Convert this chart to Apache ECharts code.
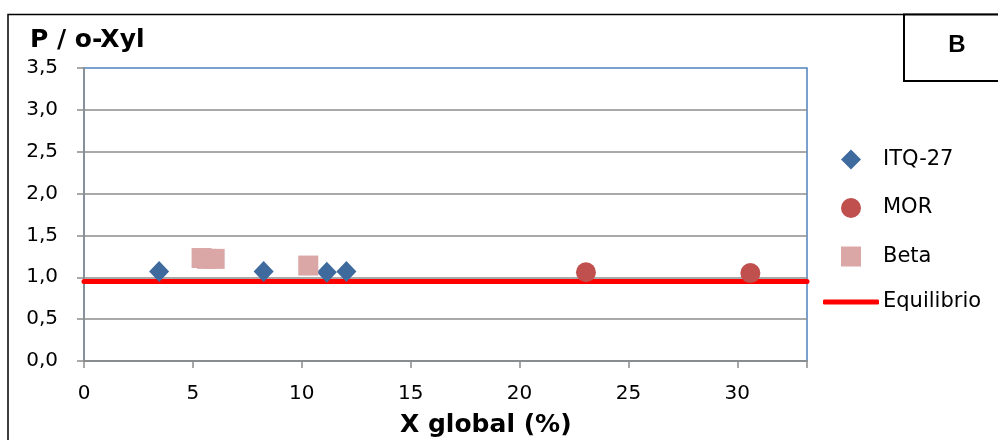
<!DOCTYPE html>
<html>
<head>
<meta charset="utf-8">
<script src="https://cdn.jsdelivr.net/npm/echarts@6/dist/echarts.min.js"></script>
<style>html,body{margin:0;padding:0;background:#fff;}#c{width:998px;height:440px;}</style>
</head>
<body>
<div id="c"></div>
<script>
// Data
const itq27 = [[3.45, 1.07], [8.25, 1.07], [11.15, 1.06], [12.05, 1.07]];
const mor = [[23.05, 1.06], [30.6, 1.05]];
const beta = [[5.4, 1.23], [5.65, 1.22], [6.0, 1.22], [10.3, 1.14]];
const equilibrioValue = 0.95;
const xRange = [0, 33.2];
const yTicks = [0, 0.5, 1.0, 1.5, 2.0, 2.5, 3.0, 3.5];
const xTicks = [0, 5, 10, 15, 20, 25, 30];

const equilibrio = xRange.map(x => [x, equilibrioValue]);

const chart = echarts.init(document.getElementById('c'));
const gray = '#8c8c8c';
const tickFont = { fontFamily: 'DejaVu Sans', fontSize: 20, color: '#000' };

chart.setOption({
  animation: false,
  backgroundColor: '#fff',
  grid: {
    left: 84, top: 68, right: 191, bottom: 79,
    show: true, borderColor: '#4F81BD', borderWidth: 1.5, backgroundColor: 'transparent'
  },
  xAxis: {
    type: 'value', min: xRange[0], max: xRange[1], interval: xTicks[1] - xTicks[0],
    axisLine: { lineStyle: { color: gray, width: 1.5 } },
    axisTick: { show: true, length: 7, lineStyle: { color: gray, width: 1.5 } },
    splitLine: { show: false },
    axisLabel: Object.assign({ margin: 23, formatter: v => xTicks.includes(v) ? String(v) : '' }, tickFont)
  },
  yAxis: {
    type: 'value', min: yTicks[0], max: yTicks[yTicks.length - 1], interval: yTicks[1] - yTicks[0],
    axisLine: { show: true, lineStyle: { color: gray, width: 1.5 } },
    axisTick: { show: true, length: 7, lineStyle: { color: gray, width: 1.5 } },
    splitLine: { show: true, showMaxLine: false, lineStyle: { color: gray, width: 1.5 } },
    axisLabel: Object.assign({ margin: 26, formatter: v => v.toFixed(1).replace('.', ',') }, tickFont)
  },
  legend: [
    {
      data: ['ITQ-27', 'MOR', 'Beta'],
      orient: 'vertical', left: 841, top: 149, padding: 0,
      itemWidth: 20, itemHeight: 20, itemGap: 27.5,
      textStyle: { fontFamily: 'DejaVu Sans', fontSize: 21, color: '#000', lineHeight: 20, padding: [0, 0, 0, 17] }
    },
    {
      data: [{ name: 'Equilibrio', icon: 'roundRect' }],
      orient: 'vertical', left: 823, top: 290, padding: 0,
      itemWidth: 56, itemHeight: 5, itemGap: 0,
      itemStyle: { color: '#FF0000', borderWidth: 0 },
      textStyle: { fontFamily: 'DejaVu Sans', fontSize: 21, color: '#000', lineHeight: 24, padding: [0, 0, 0, -1] }
    }
  ],
  series: [
    {
      name: 'Equilibrio', type: 'line', data: equilibrio, symbol: 'none', z: 1,
      lineStyle: { color: '#FF0000', width: 5, cap: 'round' }, itemStyle: { color: '#FF0000' }
    },
    {
      name: 'ITQ-27', type: 'scatter', data: itq27, symbol: 'diamond', symbolSize: [20, 21], z: 3,
      itemStyle: { color: '#3E6A9E', opacity: 1 }
    },
    {
      name: 'MOR', type: 'scatter', data: mor, symbol: 'circle', symbolSize: 20, z: 3,
      itemStyle: { color: '#BF504E', opacity: 1 }
    },
    {
      name: 'Beta', type: 'scatter', data: beta, symbol: 'rect', symbolSize: 20, z: 3,
      itemStyle: { color: '#DAA6A6', opacity: 1 }
    }
  ],
  graphic: [
    { type: 'rect', shape: { x: 8, y: 14.5, width: 1200, height: 600 }, style: { fill: 'none', stroke: '#000', lineWidth: 1.5 }, z: 0, silent: true },
    { type: 'rect', shape: { x: 904, y: 14.5, width: 200, height: 66.5 }, style: { fill: '#fff', stroke: '#000', lineWidth: 2 }, z: 5, silent: true },
    { type: 'text', x: 957, y: 45, style: { text: 'B', font: 'bold 24px "Liberation Sans"', fill: '#000', textAlign: 'center', textVerticalAlign: 'middle' }, z: 6 },
    { type: 'text', x: 30, y: 40, style: { text: 'P / o-Xyl', font: 'bold 25px "DejaVu Sans"', fill: '#000', textAlign: 'left', textVerticalAlign: 'middle' }, z: 6 },
    { type: 'text', x: 400, y: 425, style: { text: 'X global (%)', font: 'bold 25px "DejaVu Sans"', fill: '#000', textAlign: 'left', textVerticalAlign: 'middle' }, z: 6 }
  ]
});
</script>
</body>
</html>
